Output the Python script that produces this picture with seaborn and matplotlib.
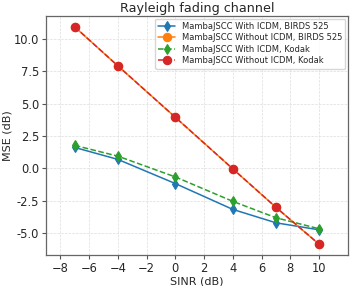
import matplotlib
matplotlib.use("Agg")
import matplotlib.pyplot as plt
import seaborn as sns
import pandas as pd

sinr = [-7, -4, 0, 4, 7, 10]
with_icdm_birds = [1.62, 0.70, -1.16, -3.15, -4.18, -4.72]
without_icdm_birds = [10.90, 7.90, 3.94, -0.03, -2.99, -5.83]
with_icdm_kodak = [1.78, 0.95, -0.65, -2.53, -3.79, -4.64]
without_icdm_kodak = [10.90, 7.90, 3.94, -0.03, -2.99, -5.83]

labels = ["MambaJSCC With ICDM, BIRDS 525", "MambaJSCC Without ICDM, BIRDS 525",
          "MambaJSCC With ICDM, Kodak", "MambaJSCC Without ICDM, Kodak"]
series = [with_icdm_birds, without_icdm_birds, with_icdm_kodak, without_icdm_kodak]
colors = ["#1f77b4", "#ff7f0e", "#2ca02c", "#d62728"]
markers = ["d", "o", "d", "o"]
styles = ["-", "-", "--", "--"]

sns.set_style("white")
plt.rcParams["font.family"] = ["DejaVu Sans"]

fig = plt.figure(figsize=(3.51, 2.86), dpi=100)
ax = fig.add_axes([0.131, 0.108, 0.860, 0.836])

for lab, vals, c, m, ls in zip(labels, series, colors, markers, styles):
    df = pd.DataFrame({"SINR": sinr, "MSE": vals})
    sns.lineplot(data=df, x="SINR", y="MSE", ax=ax, color=c, marker=m, linestyle=ls,
                 markersize=6 if m == "o" else 5.5, markeredgewidth=0.8, markeredgecolor=c,
                 linewidth=1.1, label=lab)

ax.set_xlim(-9, 12)
ax.set_xticks(range(-8, 11, 2))
ax.set_yticks([-5.0, -2.5, 0.0, 2.5, 5.0, 7.5, 10.0])
ax.yaxis.set_major_formatter(matplotlib.ticker.FormatStrFormatter("%.1f"))
ax.grid(True, linestyle="--", linewidth=0.5, color="#dddddd")
ax.tick_params(axis="both", labelsize=8.3, length=3, width=0.8, direction="out",
               bottom=True, left=True, color="#555555", pad=2)
for s in ax.spines.values():
    s.set_color("#666666")
    s.set_linewidth(0.9)
ax.set_xlabel("SINR (dB)", fontsize=8, labelpad=1)
ax.set_ylabel("MSE (dB)", fontsize=8, labelpad=1)
ax.set_title("Rayleigh fading channel", fontsize=9.2, pad=3)
ax.legend(loc="upper right", fontsize=6, frameon=True, borderpad=0.4,
          labelspacing=0.3, handlelength=2.0, borderaxespad=0.3)

fig.savefig("out.png", dpi=100)
